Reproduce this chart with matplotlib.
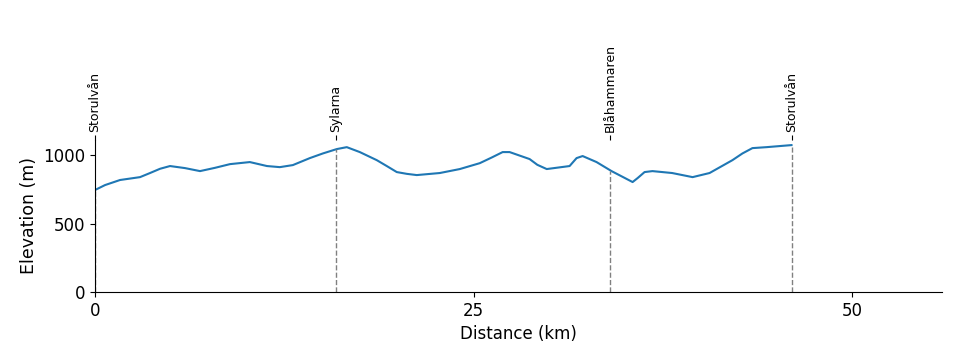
import matplotlib
matplotlib.use("Agg")
from matplotlib import pyplot as plt

# elevation profile
distance_km = [0, 0.66, 1.65, 2.97, 3.63, 4.29, 4.95, 5.94, 6.93, 7.92, 8.91, 10.22,
               11.35, 12.2, 13.06, 14.18, 15.04, 15.96, 16.62, 17.48, 18.6, 19.26,
               19.92, 20.58, 21.24, 22.76, 24.08, 25.4, 26.2, 26.91, 27.37, 28.69,
               29.2, 29.82, 31.33, 31.79, 32.19, 33.11, 34.1, 35.49, 35.82, 36.28,
               36.8, 38.1, 39.45, 40.57, 42.08, 42.74, 43.4, 44.33, 45.98]
elevation_m = [745, 781, 818, 839, 869, 900, 920, 905, 883, 907, 934, 949,
               920, 912, 927, 978, 1012, 1044, 1058, 1022, 963, 920,
               876, 863, 854, 869, 898, 941, 983, 1022, 1022, 971,
               929, 898, 920, 978, 993, 949, 883, 803, 832, 876,
               883, 869, 839, 869, 963, 1012, 1051, 1058, 1073]

# huts along the route
stop_names = ["Storulvån", "Sylarna", "Blåhammaren", "Storulvån"]
stop_km = [0, 15.9, 34.0, 46.0]
stop_elev = [745, 1044, 883, 1073]

x_max = 55.9
y_max = 1110

fig = plt.figure(figsize=(9.6, 3.6), dpi=100)
ax = fig.add_axes([0.099, 0.189, 0.882, 0.422])

ax.plot(distance_km, elevation_m, color="tab:blue", linewidth=1.5)
ax.vlines(stop_km, 0, stop_elev, colors="gray", linestyles="--", linewidth=1)

ax.set_xlim(0, x_max)
ax.set_ylim(0, y_max)
ax.set_xticks([0, 25, 50])
ax.set_yticks([0, 500, 1000])
ax.tick_params(labelsize=12)
ax.set_xlabel("Distance (km)", fontsize=12)
ax.set_ylabel("Elevation (m)", fontsize=12.5)
ax.spines["top"].set_visible(False)
ax.spines["right"].set_visible(False)

# stop names as ticks on a top axis
top = ax.twiny()
top.set_xlim(ax.get_xlim())
top.set_xticks(stop_km)
top.set_xticklabels(stop_names, rotation=90, fontsize=9)
top.tick_params(pad=2)
for s in top.spines.values():
    s.set_visible(False)

fig.savefig("out.png", dpi=100)
